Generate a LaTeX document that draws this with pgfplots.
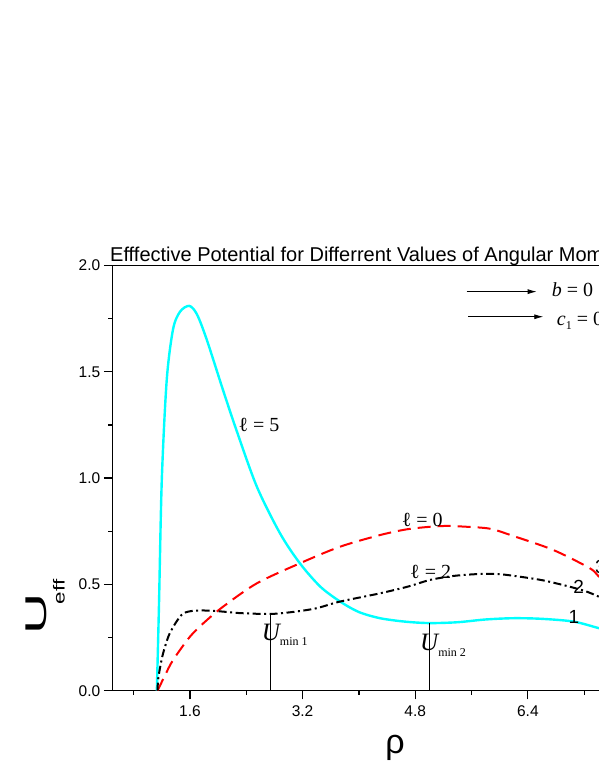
\documentclass[border=0pt]{standalone}
\usepackage{pgfplots}
\pgfplotsset{compat=1.18}
\usepackage{fontspec}
\setmainfont{Liberation Sans}
\newfontfamily\tms{Liberation Serif}
\usetikzlibrary{arrows.meta}
\newcommand\fs[1]{\fontsize{#1}{#1}\selectfont}
\definecolor{lcyan}{RGB}{0,255,255}
\definecolor{lred}{RGB}{255,0,0}

\begin{document}
\begin{tikzpicture}
\begin{axis}[
    at={(112.5pt,85.3pt)}, anchor=south west,
    scale only axis, width=563.2pt, height=425.2pt,
    xmin=0.5, xmax=8.5, ymin=0, ymax=2,
    axis line style={line width=1.2pt},
    xtick={1.6,3.2,4.8,6.4,8.0},
    minor xtick={0.8,2.4,4.0,5.6,7.2},
    ytick={0,0.5,1,1.5,2},
    minor ytick={0.25,0.75,1.25,1.75},
    xtick pos=bottom, ytick pos=left,
    tick align=outside,
    major tick length=8.7pt, minor tick length=4.3pt,
    every tick/.style={black, line width=1.2pt},
    tick label style={font=\fs{15.5}},
    xticklabel style={yshift=-3pt},
    /pgf/number format/.cd, fixed, fixed zerofill, precision=1,
    assume math mode=true, /pgfplots/.cd,
]
% l = 5
\addplot[lcyan, line width=2.4pt, smooth, tension=0.5] coordinates {
    (1.13,0) (1.16,0.40) (1.20,0.99) (1.27,1.46) (1.36,1.70) (1.46,1.783)
    (1.59,1.81) (1.70,1.77) (1.84,1.65) (2.07,1.414) (2.26,1.226)
    (2.55,0.96) (2.88,0.74) (3.16,0.60) (3.45,0.49) (3.73,0.42)
    (4.0,0.37) (4.3,0.341) (4.65,0.325) (5.0,0.318) (5.4,0.322)
    (5.8,0.335) (6.2,0.341) (6.6,0.338) (7.05,0.325) (7.41,0.294) (7.7,0.27)};
% l = 0
\addplot[lred, line width=2pt, dash pattern=on 13pt off 7pt, smooth, tension=0.5] coordinates {
    (1.14,0) (1.25,0.075) (1.36,0.144) (1.60,0.254) (1.80,0.32)
    (2.07,0.395) (2.55,0.505) (3.16,0.599) (3.73,0.677) (4.30,0.732)
    (4.68,0.759) (5.01,0.771) (5.25,0.775) (5.48,0.772) (5.86,0.762)
    (6.19,0.728) (6.76,0.662) (7.28,0.576) (7.41,0.536) (7.6,0.49)};
% l = 2
\addplot[black, line width=2pt, dash pattern=on 8pt off 3.5pt on 2pt off 3.5pt, smooth, tension=0.5] coordinates {
    (1.14,0) (1.15,0.058) (1.20,0.15) (1.246,0.207) (1.30,0.26)
    (1.364,0.301) (1.43,0.335) (1.506,0.364) (1.648,0.376) (1.84,0.377)
    (2.07,0.372) (2.31,0.365) (2.75,0.361) (3.10,0.372) (3.40,0.388)
    (3.73,0.419) (4.30,0.458) (4.70,0.49) (5.01,0.521) (5.35,0.54)
    (5.72,0.549) (6.0,0.548) (6.29,0.536) (6.60,0.52) (6.90,0.497)
    (7.20,0.47) (7.41,0.442) (7.6,0.41)};
% U_min markers
\addplot[black, line width=0.8pt] coordinates {(2.747,0) (2.747,0.361)};
\addplot[black, line width=0.8pt] coordinates {(5.0,0) (5.0,0.318)};

\node[anchor=base west, inner sep=0, font=\tms\fs{20}] at (axis cs:2.287,1.218) {ℓ = 5};
\node[anchor=base west, inner sep=0, font=\tms\fs{20}] at (axis cs:4.608,0.771) {ℓ = 0};
\node[anchor=base west, inner sep=0, font=\tms\fs{20}] at (axis cs:4.726,0.529) {ℓ = 2};
\node[anchor=base west, inner sep=0, font=\fs{19}] at (axis cs:7.045,0.458) {2};
\node[anchor=base west, inner sep=0, font=\fs{19}] at (axis cs:6.975,0.317) {1};
\node[anchor=base west, inner sep=0, font=\fs{19}] at (axis cs:7.354,0.55) {3};
\node[anchor=base west, inner sep=0] at (axis cs:2.619,0.238)
    {\tms\fs{25}\itshape U\raisebox{-5pt}{\upshape\fs{12}min 1}};
\node[anchor=base west, inner sep=0] at (axis cs:4.868,0.188)
    {\tms\fs{25}\itshape U\raisebox{-6pt}{\upshape\fs{12}min 2}};
\draw[-{Latex[length=9pt,width=5pt]}, line width=0.8pt] (axis cs:5.531,1.877) -- (axis cs:6.525,1.877);
\draw[-{Latex[length=9pt,width=5pt]}, line width=0.8pt] (axis cs:5.554,1.759) -- (axis cs:6.619,1.759);
\node[anchor=base west, inner sep=0, font=\tms\fs{20}] at (axis cs:6.739,1.853) {\textit{b} = 0};
\node[anchor=base west, inner sep=0, font=\tms\fs{20}] at (axis cs:6.81,1.72)
    {\textit{c}\raisebox{-4pt}{\fs{12}1} = 0};
\end{axis}

\node[anchor=base west, inner sep=0, font=\fs{20}] at (110pt,514.3pt)
    {Efffective Potential for Differrent Values of Angular Momentum};
\node[anchor=base, inner sep=0, font=\fs{34}] at (395pt,23pt) {ρ};
\node[rotate=90, anchor=base west, inner sep=0] at (46.7pt,141.5pt)
    {\scalebox{1.9}[1]{\fs{30}U}\kern-11pt\raisebox{-18pt}{\scalebox{1.4}[1]{\fs{16}eff}}};

\pgfresetboundingbox
\path (0,0) rectangle (599pt,776pt);
\end{tikzpicture}
\end{document}
